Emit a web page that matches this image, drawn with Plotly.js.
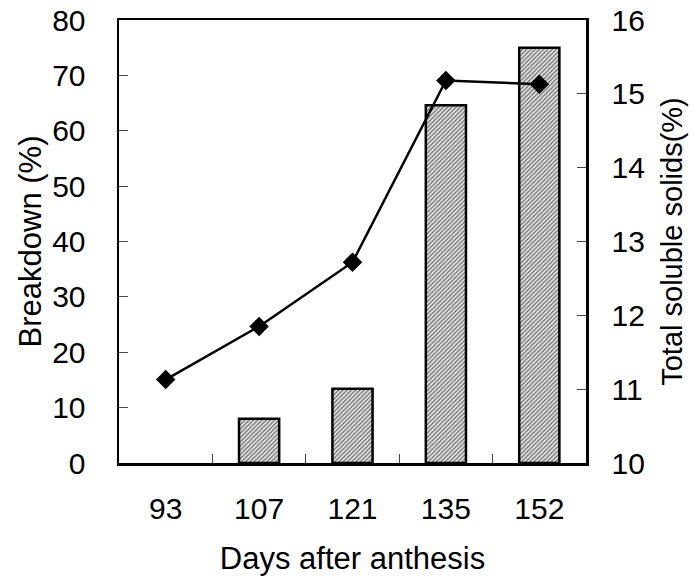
<!DOCTYPE html>
<html>
<head>
<meta charset="utf-8">
<script src="https://cdn.plot.ly/plotly-3.0.1.min.js"></script>
<style>html,body{margin:0;padding:0;background:#fff}#chart{width:694px;height:582px}</style>
</head>
<body>
<div id="chart"></div>
<script>
const days = ["93", "107", "121", "135", "152"];
const breakdown = [0, 8.0, 13.4, 64.6, 75.0];
const solubleSolids = [11.13, 11.85, 12.72, 15.18, 15.13];
const leftTicks = [0, 10, 20, 30, 40, 50, 60, 70, 80];
const rightTicks = [10, 11, 12, 13, 14, 15, 16];

const FONT = "Liberation Sans, Arial, sans-serif";

const traces = [
  {
    type: "bar",
    x: days,
    y: breakdown,
    width: 0.43,
    marker: {
      color: "#d0d0d0",
      line: {color: "#000", width: breakdown.map(v => (v > 0 ? 2.5 : 0))},
      pattern: {shape: "/", fgcolor: "#6a6a6a", bgcolor: "#e4e4e4", size: 3, solidity: 0.4}
    },
    yaxis: "y",
    showlegend: false,
    hoverinfo: "skip"
  },
  {
    type: "scatter",
    mode: "lines+markers",
    x: days,
    y: solubleSolids,
    yaxis: "y2",
    line: {color: "#000", width: 2.5},
    marker: {symbol: "diamond", size: 15, color: "#000"},
    showlegend: false,
    hoverinfo: "skip"
  }
];

const layout = {
  width: 694,
  height: 582,
  margin: {l: 119, r: 108, t: 20, b: 119},
  paper_bgcolor: "#fff",
  plot_bgcolor: "#fff",
  font: {family: FONT, size: 30, color: "#000"},
  xaxis: {
    type: "category",
    tickson: "boundaries",
    ticks: "inside",
    ticklen: 9,
    tickwidth: 1,
    tickcolor: "#444",
    showline: true,
    linecolor: "#000",
    linewidth: 2.5,
    mirror: true,
    showgrid: false,
    zeroline: false,
    tickfont: {family: FONT, size: 30},
    ticklabelstandoff: 17,
    title: {text: "Days after anthesis", font: {family: FONT, size: 31}, standoff: 24}
  },
  yaxis: {
    range: [0, 80],
    tickvals: leftTicks,
    ticks: "inside",
    ticklen: 9,
    tickwidth: 1,
    tickcolor: "#444",
    showline: true,
    linecolor: "#000",
    linewidth: 2.5,
    showgrid: false,
    zeroline: false,
    tickfont: {family: FONT, size: 30},
    ticklabelstandoff: 25,
    title: {text: "Breakdown (%)", font: {family: FONT, size: 31}, standoff: 2}
  },
  yaxis2: {
    overlaying: "y",
    side: "right",
    range: [10, 16],
    tickvals: rightTicks,
    ticks: "inside",
    ticklen: 9,
    tickwidth: 1,
    tickcolor: "#444",
    showline: true,
    linecolor: "#000",
    linewidth: 2.5,
    showgrid: false,
    zeroline: false,
    tickfont: {family: FONT, size: 30},
    ticklabelstandoff: 17,
    title: {text: "Total soluble solids(%)", font: {family: FONT, size: 29}, standoff: 18}
  }
};

Plotly.newPlot("chart", traces, layout, {displayModeBar: false, staticPlot: true});
</script>
</body>
</html>
